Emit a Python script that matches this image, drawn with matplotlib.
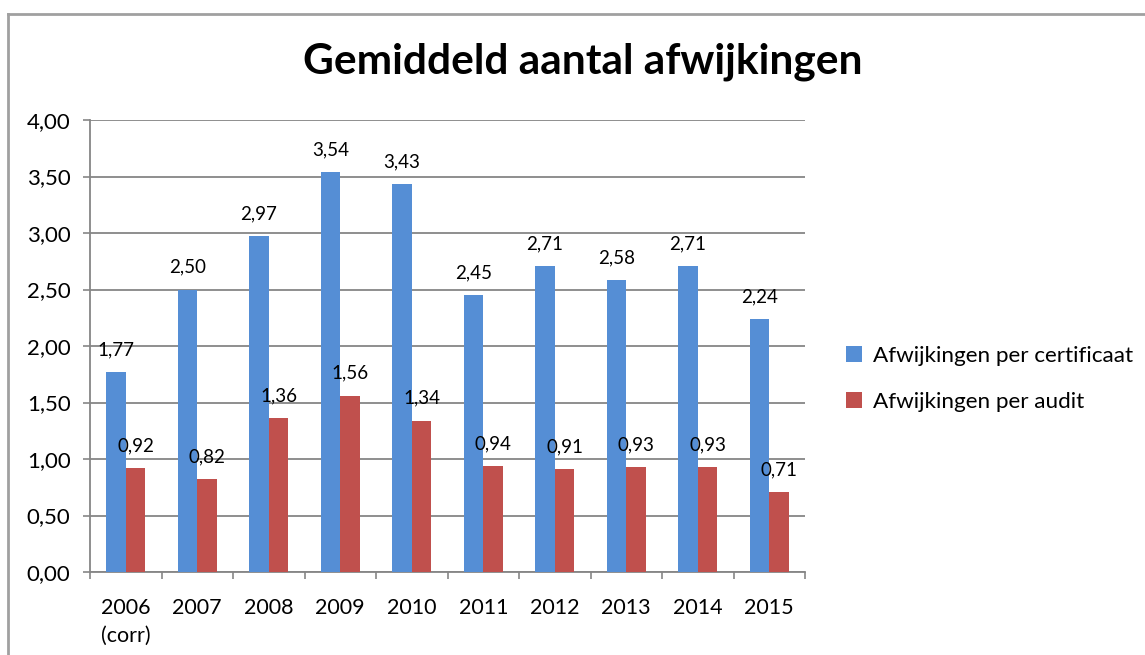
import matplotlib.pyplot as plt
import numpy as np
from matplotlib.lines import Line2D

plt.rcParams['font.family'] = ['Lato', 'DejaVu Sans']

years = ['2006\n(corr)', '2007', '2008', '2009', '2010', '2011', '2012', '2013', '2014', '2015']
per_certificaat = [1.77, 2.50, 2.97, 3.54, 3.43, 2.45, 2.71, 2.58, 2.71, 2.24]
per_audit = [0.92, 0.82, 1.36, 1.56, 1.34, 0.94, 0.91, 0.93, 0.93, 0.71]

blue = '#558ED5'
red = '#C0504D'
grey = '#868686'

fig = plt.figure(figsize=(11.45, 6.55), dpi=100)
ax = fig.add_axes([90 / 1145, 1 - 572 / 655, 715 / 1145, 452 / 655])

x = np.arange(len(years))
w = 0.275
b1 = ax.bar(x - w / 2, per_certificaat, w, color=blue, label='Afwijkingen per certificaat', zorder=3)
b2 = ax.bar(x + w / 2, per_audit, w, color=red, label='Afwijkingen per audit', zorder=3)

def fmt(v):
    return f'{v:.2f}'.replace('.', ',')

for bars in (b1, b2):
    ax.bar_label(bars, labels=[fmt(v) for v in bars.datavalues], padding=10, fontsize=13.5)

ax.set_xlim(-0.5, len(years) - 0.5)
ax.set_ylim(0, 4)
ax.set_yticks(np.arange(0, 4.01, 0.5))
ax.set_yticklabels([fmt(v) for v in np.arange(0, 4.01, 0.5)], fontsize=16)
ax.set_xticks(x)
ax.set_xticklabels(years, fontsize=15.5, linespacing=1.45)
ax.set_xticks(np.arange(-0.5, len(years)), minor=True)
ax.tick_params(axis='x', which='major', length=0, pad=19)
ax.tick_params(axis='x', which='minor', length=5, color=grey, width=1.2)
ax.tick_params(axis='y', length=5, color=grey, width=1.2, pad=9)
ax.grid(axis='y', color=grey, linewidth=1.3, zorder=0)
ax.set_axisbelow(True)
for s in ('top', 'right'):
    ax.spines[s].set_visible(False)
for s in ('left', 'bottom'):
    ax.spines[s].set_color(grey)
    ax.spines[s].set_linewidth(1.3)

fig.text(583 / 1145, 1 - 62 / 655, 'Gemiddeld aantal afwijkingen', ha='center', va='center',
         fontsize=30.5, fontweight='bold')

fig.legend(loc='center left', bbox_to_anchor=(826 / 1145, 1 - 379 / 655), frameon=False,
           fontsize=16.2, handlelength=0.7, handleheight=0.7, handletextpad=0.5,
           labelspacing=1.15)

# chart border
fig.add_artist(Line2D([8 / 1145, 1], [1 - 14 / 655, 1 - 14 / 655], color='#A0A0A0', linewidth=2))
fig.add_artist(Line2D([8 / 1145, 8 / 1145], [0, 1 - 14 / 655], color='#A0A0A0', linewidth=2))

fig.savefig('out.png', dpi=100)
